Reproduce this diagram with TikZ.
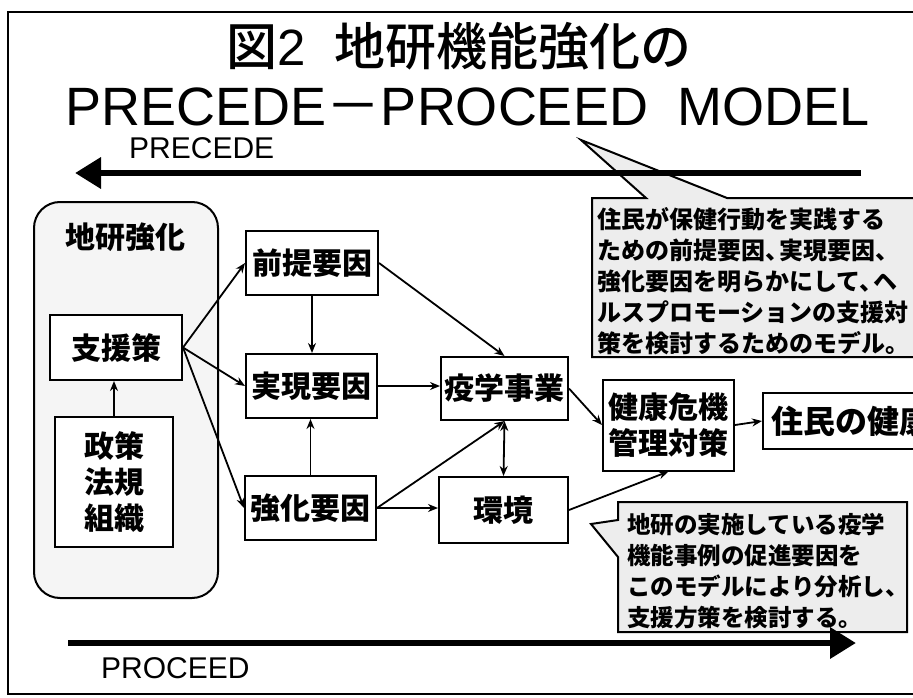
\documentclass[tikz,border=0pt]{standalone}
\usepackage{fontspec}
\setmainfont{Liberation Sans}
\newfontfamily\jp{Noto Sans CJK JP}
\newfontfamily\jpm{Noto Sans CJK JP Medium}
\usetikzlibrary{arrows.meta}
\begin{document}
\begin{tikzpicture}[x=1pt,y=-1pt,
  box/.style={draw, line width=2pt, inner sep=0pt, align=center, fill=white,
    font=\jp\bfseries\fontsize{30}{36}\selectfont},
  conn/.style={-{Stealth[length=10pt,width=8pt]}, line width=1.8pt},
  dconn/.style={{Stealth[length=10pt,width=8pt]}-{Stealth[length=10pt,width=8pt]}, line width=1.8pt},
  bigarrow/.style={-{Triangle[length=26pt,width=30pt]}, line width=6.5pt},
  callout/.style={draw, line width=2pt, fill=gray!14, line join=miter},
  calltext/.style={inner sep=0pt, anchor=west, align=left,
    font=\jp\bfseries\fontsize{24}{31}\selectfont}
]
\useasboundingbox (0,0) rectangle (913,698);
% outer frame
\draw[line width=2.5pt] (8,12) rectangle (940,694);

% titles
\node[inner sep=0pt, font=\jpm\fontsize{51}{60}\selectfont] (title1) at (459,46) {図{\normalfont\fontsize{51}{60}\selectfont 2}\hspace{0.55em}地研機能強化の};
\node[inner sep=0pt, font=\fontsize{54}{60}\selectfont] (title2) at (468,107) {PRECEDE{\jp －}PROCEED\ \ MODEL};

% callout 1
\draw[callout] (592,198) -- (646,198) -- (581,140) -- (727,198) -- (940,198)
  -- (940,357) -- (592,357) -- cycle;
\node[calltext] (c1) at (597,281) {住民が保健行動を実践する\\ための前提要因、\kern-0.4em 実現要因、\\強化要因を明らかにして、\kern-0.4em ヘ\\ルスプロモーションの支援対\\策を検討するためのモデル。};

% callout 2
\draw[callout] (618,502) -- (907,502) -- (907,632) -- (618,632) -- (618,557)
  -- (591,524) -- (618,520) -- cycle;
\node[calltext, font=\jp\bfseries\fontsize{23.5}{31}\selectfont] (c2) at (627,571) {地研の実施している疫学\\機能事例の促進要因を\\このモデルにより分析し、\\支援方策を検討する。};

% PRECEDE / PROCEED arrows
\coordinate (precA) at (861,173);
\coordinate (precB) at (75,173);
\draw[bigarrow] (precA) -- (precB);
\node[inner sep=0pt, anchor=west, font=\fontsize{30}{36}\selectfont] (preclbl) at (129,148) {PRECEDE};
\coordinate (procA) at (68,643);
\coordinate (procB) at (856,643);
\draw[bigarrow] (procA) -- (procB);
\node[inner sep=0pt, anchor=west, font=\fontsize{30}{36}\selectfont] (proclbl) at (101,668) {PROCEED};

% left zone
\node[draw, line width=2pt, rounded corners=26pt, fill=gray!8, minimum width=184pt, minimum height=396pt, inner sep=0pt] (zone) at (126,400) {};
\node[inner sep=0pt, font=\jp\bfseries\fontsize{30}{36}\selectfont] (zonelbl) at (125,237) {地研強化};
\node[box, minimum width=132pt, minimum height=65pt] (shien) at (116,347.5) {支援策};
\node[box, minimum width=118pt, minimum height=130pt] (seisaku) at (114,482) {政策\\法規\\組織};

% factor boxes
\node[box, minimum width=132pt, minimum height=64pt] (zentei) at (312,263) {前提要因};
\node[box, minimum width=131pt, minimum height=64pt] (jitsugen) at (311.5,386) {実現要因};
\node[box, minimum width=131pt, minimum height=64pt] (kyoka) at (310.5,508) {強化要因};
\node[box, minimum width=127pt, minimum height=63pt] (ekigaku) at (504.5,388.5) {疫学事業};
\node[box, minimum width=129pt, minimum height=66pt] (kankyo) at (503.5,510) {環境};
\node[box, minimum width=131pt, minimum height=91pt] (kenko) at (668.5,425) {健康危機\\管理対策};
\node[box, minimum width=177pt, minimum height=56pt, font=\jp\bfseries\fontsize{32}{36}\selectfont] (jumin) at (851.5,421) {住民の健康};

% connectors
\draw[conn] (seisaku.north) -- (seisaku.north |- shien.south);
\draw[conn] (shien.east) -- (zentei.west);
\draw[conn] (shien.east) -- (jitsugen.west);
\draw[conn] (shien.east) -- (kyoka.west);
\draw[conn] (zentei.south) -- (zentei.south |- jitsugen.north);
\draw[conn] (kyoka.north) -- (kyoka.north |- jitsugen.south);
\draw[conn] (zentei.east) -- (ekigaku.north);
\draw[conn] (jitsugen.east) -- (jitsugen.east -| ekigaku.west);
\draw[conn] (kyoka.east) -- (ekigaku.south);
\draw[conn] (kyoka.east) -- (kyoka.east -| kankyo.west);
\draw[dconn] (ekigaku.south) -- (kankyo.north);
\draw[conn] (ekigaku.east) -- (kenko.west);
\draw[conn] (kankyo.east) -- (kenko.south);
\draw[conn] (kenko.east) -- (jumin.west);
\end{tikzpicture}
\end{document}
